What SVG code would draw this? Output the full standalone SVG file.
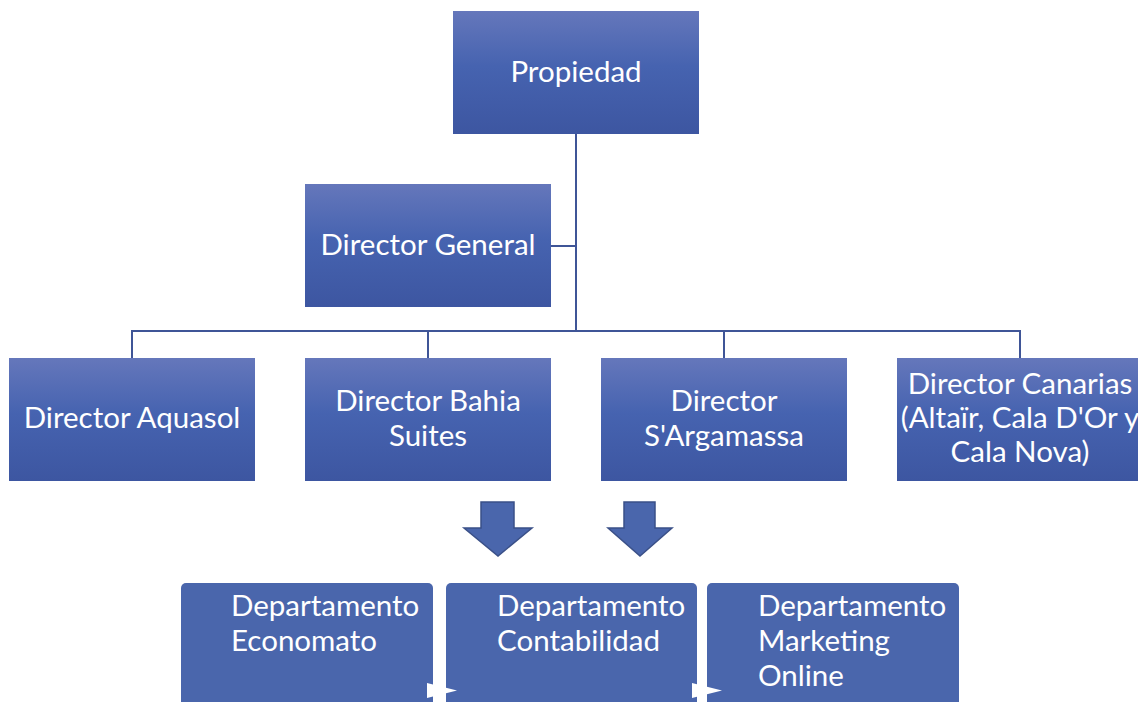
<svg xmlns="http://www.w3.org/2000/svg" width="1138" height="702" viewBox="0 0 1138 702">
  <defs>
    <linearGradient id="boxFill" x1="0" y1="0" x2="0" y2="1">
      <stop offset="0" stop-color="#6577BB"/>
      <stop offset="0.45" stop-color="#4663B0"/>
      <stop offset="1" stop-color="#3D56A1"/>
    </linearGradient>
  </defs>
  <style>
    .box { fill: url(#boxFill); }
    .dept { fill: #4A66AC; }
    .lbl { font-family: Lato, "Open Sans", "Liberation Sans", sans-serif; font-size: 29.5px; fill: #FFFFFF; text-anchor: middle; }
    .dlbl { font-family: Lato, "Open Sans", "Liberation Sans", sans-serif; font-size: 29.5px; fill: #FFFFFF; }
    .conn { fill: none; stroke: #3F5597; stroke-width: 2; }
    .arrow { fill: #4A66AC; stroke: #3A5088; stroke-width: 1.5; stroke-linejoin: miter; }
    .tri { fill: #FFFFFF; }
  </style>

  <rect width="1138" height="702" fill="#FFFFFF"/>

  <!-- hierarchy connectors -->
  <g id="connectors">
    <path class="conn" d="M576 134 V331"/>
    <path class="conn" d="M551 246 H576"/>
    <path class="conn" d="M132 358 V331 H1020 V358"/>
    <path class="conn" d="M428 331 V358"/>
    <path class="conn" d="M724 331 V358"/>
  </g>

  <g id="propiedad">
    <rect class="box" x="453" y="11" width="246" height="123"/>
    <text class="lbl" x="576" y="82">Propiedad</text>
  </g>

  <g id="director-general">
    <rect class="box" x="305" y="184" width="246" height="123"/>
    <text class="lbl" x="428" y="255">Director General</text>
  </g>

  <g id="director-aquasol">
    <rect class="box" x="9" y="358" width="246" height="123"/>
    <text class="lbl" x="132" y="428">Director Aquasol</text>
  </g>

  <g id="director-bahia">
    <rect class="box" x="305" y="358" width="246" height="123"/>
    <text class="lbl" x="428" y="411">Director Bahia</text>
    <text class="lbl" x="428" y="446">Suites</text>
  </g>

  <g id="director-sargamassa">
    <rect class="box" x="601" y="358" width="246" height="123"/>
    <text class="lbl" x="724" y="411">Director</text>
    <text class="lbl" x="724" y="446">S'Argamassa</text>
  </g>

  <g id="director-canarias">
    <rect class="box" x="897" y="358" width="246" height="123"/>
    <text class="lbl" x="1020" y="394">Director Canarias</text>
    <text class="lbl" x="1020" y="428">(Altaïr, Cala D'Or y</text>
    <text class="lbl" x="1020" y="462">Cala Nova)</text>
  </g>

  <!-- block arrows pointing down to the departments -->
  <g id="down-arrows">
    <path class="arrow" d="M481 502 H514 V528 H532 L498 556 L464 528 H481 Z"/>
    <path class="arrow" d="M624 502 H655 V528 H672 L640 556 L608 528 H624 Z"/>
  </g>

  <g id="dept-economato">
    <rect class="dept" x="181" y="583" width="252" height="130" rx="5"/>
    <text class="dlbl" x="231" y="616">Departamento</text>
    <text class="dlbl" x="231" y="651">Economato</text>
  </g>

  <g id="dept-contabilidad">
    <rect class="dept" x="446" y="583" width="251" height="130" rx="5"/>
    <text class="dlbl" x="497" y="616">Departamento</text>
    <text class="dlbl" x="497" y="651">Contabilidad</text>
  </g>

  <g id="dept-marketing">
    <rect class="dept" x="707" y="583" width="252" height="130" rx="5"/>
    <text class="dlbl" x="758" y="616">Departamento</text>
    <text class="dlbl" x="758" y="651">Marketing</text>
    <text class="dlbl" x="758" y="686">Online</text>
  </g>

  <!-- small flow triangles between department boxes -->
  <g id="flow-marks">
    <path class="tri" d="M427 683 L457 690.5 L427 698 Z"/>
    <path class="tri" d="M692 683 L722 690.5 L692 698 Z"/>
  </g>
</svg>
